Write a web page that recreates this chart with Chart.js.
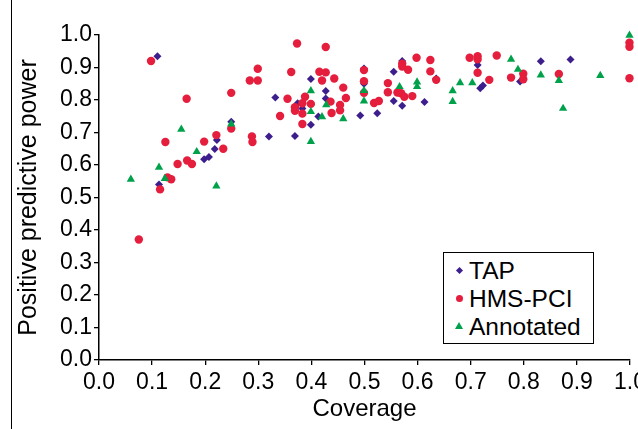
<!DOCTYPE html>
<html>
<head>
<meta charset="utf-8">
<script src="https://cdn.jsdelivr.net/npm/chart.js@4.4.1/dist/chart.umd.min.js"></script>
<style>
  html, body { margin: 0; padding: 0; overflow: hidden; background: #fff; }
  #wrap { position: relative; width: 638px; height: 429px; overflow: hidden; }
  #frame { position: absolute; left: 11px; top: 0; width: 1.3px; height: 429px; background: #000; }
  #legend {
    position: absolute; left: 443px; top: 252px; width: 149px; height: 90px;
    border: 1.5px solid #000; background: #fff;
    font-family: "Liberation Sans", Arial, sans-serif; font-size: 24.5px; color: #000;
  }
  .row { position: absolute; left: 0; height: 28px; line-height: 28px; white-space: nowrap; }
  .row span.txt { position: absolute; left: 25px; top: 0; }
  .mk { position: absolute; }
</style>
</head>
<body>
<div id="wrap">
  <canvas id="chart" width="660" height="429"></canvas>
  <div id="frame"></div>
  <div id="legend"></div>
</div>
<script>
// DATA
const seriesNames = ["TAP", "HMS-PCI", "Annotated"];

const tapX = [0.110, 0.113, 0.198, 0.207, 0.218, 0.222, 0.249, 0.320, 0.332, 0.369, 0.374, 0.383,
              0.399, 0.399, 0.413, 0.427, 0.427, 0.492, 0.499, 0.499, 0.524, 0.555, 0.555, 0.571,
              0.571, 0.613, 0.635, 0.713, 0.718, 0.723, 0.793, 0.832, 0.888];
const tapY = [0.935, 0.540, 0.618, 0.625, 0.649, 0.677, 0.733, 0.688, 0.808, 0.689, 0.790, 0.774,
              0.865, 0.724, 0.749, 0.828, 0.805, 0.752, 0.897, 0.850, 0.759, 0.887, 0.797, 0.920,
              0.782, 0.794, 0.866, 0.908, 0.836, 0.845, 0.857, 0.919, 0.925];

const hmsX = [0.075, 0.098, 0.115, 0.125, 0.129, 0.136, 0.148, 0.165, 0.166, 0.175, 0.198, 0.221,
              0.234, 0.249, 0.249, 0.284, 0.288, 0.289, 0.299, 0.299, 0.341, 0.355, 0.362, 0.369,
              0.369, 0.373, 0.388, 0.383, 0.383, 0.383, 0.399, 0.415, 0.420, 0.427, 0.427, 0.436,
              0.438, 0.443, 0.454, 0.454, 0.460, 0.465, 0.499, 0.499, 0.499, 0.518, 0.527, 0.544,
              0.544, 0.562, 0.569, 0.571, 0.571, 0.575, 0.582, 0.590, 0.598, 0.624, 0.624, 0.635,
              0.698, 0.713, 0.713, 0.713, 0.735, 0.749, 0.776, 0.799, 0.799, 0.866, 0.999, 0.999,
              0.999];
const hmsY = [0.371, 0.920, 0.525, 0.671, 0.562, 0.556, 0.603, 0.804, 0.614, 0.603, 0.672, 0.692,
              0.650, 0.822, 0.712, 0.860, 0.688, 0.671, 0.860, 0.896, 0.751, 0.804, 0.886, 0.778,
              0.767, 0.974, 0.810, 0.790, 0.758, 0.726, 0.788, 0.887, 0.860, 0.885, 0.963, 0.795,
              0.760, 0.866, 0.785, 0.768, 0.838, 0.806, 0.892, 0.858, 0.822, 0.791, 0.797, 0.852,
              0.824, 0.823, 0.821, 0.912, 0.903, 0.810, 0.893, 0.812, 0.930, 0.923, 0.888, 0.862,
              0.930, 0.935, 0.925, 0.884, 0.862, 0.937, 0.869, 0.881, 0.864, 0.880, 0.976, 0.964,
              0.867];

const annX = [0.060, 0.113, 0.124, 0.155, 0.184, 0.221, 0.249, 0.399, 0.399, 0.399, 0.420, 0.428,
              0.460, 0.499, 0.499, 0.566, 0.599, 0.599, 0.666, 0.666, 0.680, 0.703, 0.776, 0.789,
              0.832, 0.866, 0.874, 0.944, 0.999];
const annY = [0.556, 0.593, 0.558, 0.710, 0.641, 0.535, 0.726, 0.828, 0.764, 0.672, 0.748, 0.785,
              0.742, 0.829, 0.797, 0.841, 0.855, 0.841, 0.828, 0.795, 0.853, 0.853, 0.925, 0.894,
              0.877, 0.860, 0.774, 0.875, 0.999];

const axisTicks = [0, 0.1, 0.2, 0.3, 0.4, 0.5, 0.6, 0.7, 0.8, 0.9, 1.0];

const colors = ["#3c1e8c", "#e41e3c", "#00a14b"];
const shapes = ["rectRot", "circle", "triangle"];
const sizes = [4, 4.2, 4.8];

function pts(xs, ys) { return xs.map((x, i) => ({ x, y: ys[i] })); }

const FONT = "'Liberation Sans', Arial, sans-serif";
Chart.defaults.color = "#000";
Chart.defaults.font.family = FONT;

const datasets = [pts(tapX, tapY), pts(hmsX, hmsY), pts(annX, annY)].map((data, i) => ({
    label: seriesNames[i],
    data,
    pointStyle: shapes[i],
    pointRadius: sizes[i],
    pointBorderWidth: 0,
    backgroundColor: colors[i],
    borderColor: colors[i],
    clip: false,
    order: 3 - i
}));

const axisCommon = {
    type: "linear",
    min: 0,
    max: 1,
    border: { display: true, color: "#000", width: 1.5 },
    grid: { drawOnChartArea: false, drawTicks: true, tickLength: 5, color: "#000", lineWidth: 1.3 },
    afterBuildTicks: (s) => { s.ticks = axisTicks.map(v => ({ value: v })); }
};

new Chart(document.getElementById("chart"), {
    type: "scatter",
    data: { datasets },
    options: {
        responsive: false,
        animation: false,
        layout: { padding: { left: 12, top: 35, right: 30, bottom: 0 } },
        plugins: { legend: { display: false }, tooltip: { enabled: false } },
        scales: {
            x: {
                ...axisCommon,
                ticks: { autoSkip: false, maxRotation: 0, padding: 4, font: { size: 23 }, callback: v => v.toFixed(1) },
                title: { display: true, text: "Coverage", font: { size: 24 }, padding: { top: 0, bottom: 5 } },
                afterFit: (s) => { s.height = 69; }
            },
            y: {
                ...axisCommon,
                ticks: { autoSkip: false, padding: 2, font: { size: 23 }, callback: v => v.toFixed(1) },
                title: { display: true, text: "Positive predictive power", font: { size: 25 }, padding: { top: 2, bottom: 0 } },
                afterFit: (s) => { s.width = 87; }
            }
        }
    }
});

// HTML legend box
const legend = document.getElementById("legend");
const markerHtml = [
    '<div class="mk" style="left:13px;top:11px;width:5px;height:5px;background:' + colors[0] + ';transform:rotate(45deg)"></div>',
    '<div class="mk" style="left:12px;top:10px;width:7px;height:7px;border-radius:50%;background:' + colors[1] + '"></div>',
    '<div class="mk" style="left:11px;top:9px;width:0;height:0;border-left:4px solid transparent;border-right:4px solid transparent;border-bottom:7px solid ' + colors[2] + '"></div>'
];
seriesNames.forEach((name, i) => {
    const row = document.createElement("div");
    row.className = "row";
    row.style.top = (4 + i * 28) + "px";
    row.innerHTML = markerHtml[i] + '<span class="txt">' + name + '</span>';
    legend.appendChild(row);
});
</script>
</body>
</html>
